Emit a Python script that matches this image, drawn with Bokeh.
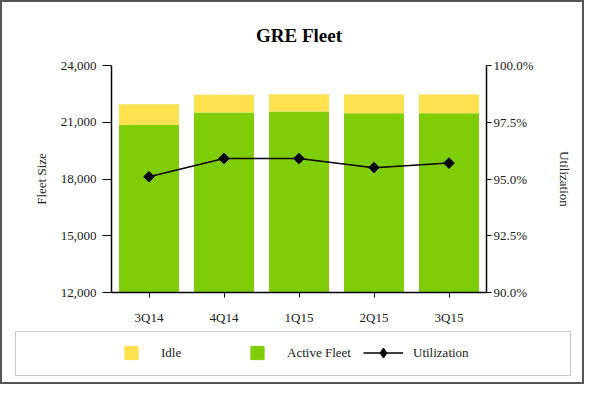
import math
from bokeh.plotting import figure
from bokeh.models import (ColumnDataSource, Range1d, LinearAxis, FactorRange,
                          NumeralTickFormatter, PrintfTickFormatter, FixedTicker,
                          Legend, LegendItem)
from bokeh.layouts import column
from bokeh.embed import file_html
from bokeh.resources import INLINE

# ---- data ----
categories = ["3Q14", "4Q14", "1Q15", "2Q15", "3Q15"]
active_fleet = [20860, 21520, 21570, 21470, 21470]
idle = [1090, 930, 915, 995, 995]
utilization = [95.1, 95.9, 95.9, 95.5, 95.7]
left_ticks = [12000, 15000, 18000, 21000, 24000]
right_ticks = [90.0, 92.5, 95.0, 97.5, 100.0]

GREEN = "#7ecd06"
YELLOW = "#ffe14f"
FONT = "Liberation Serif"
TXT = "#222222"

src = ColumnDataSource(dict(cat=categories, active=active_fleet, idle=idle,
                            total=[a + i for a, i in zip(active_fleet, idle)],
                            util=utilization))

p = figure(x_range=FactorRange(*categories, range_padding=0),
           y_range=Range1d(12000, 24000),
           width=580, height=325, output_backend="svg", toolbar_location=None,
           min_border_left=109, min_border_right=96, min_border_top=60,
           min_border_bottom=35, outline_line_color=None)
p.frame_align = False
p.extra_y_ranges = {"util": Range1d(90, 100)}

p.vbar_stack(["active", "idle"], x="cat", width=0.8, color=[GREEN, YELLOW],
             line_color=None, source=src)
p.line("cat", "util", source=src, y_range_name="util", color="black", line_width=1.5)
p.scatter("cat", "util", source=src, y_range_name="util", marker="square",
          angle=math.pi / 4, size=7.5, color="black")

p.title.text = "GRE Fleet"
p.title.align = "center"
p.title.text_font = FONT
p.title.text_font_size = "19px"
p.title.text_font_style = "bold"
p.title.text_color = "black"
p.title.standoff = 40

p.xgrid.visible = False
p.ygrid.visible = False

# left axis
ya = p.yaxis[0]
ya.ticker = FixedTicker(ticks=left_ticks)
ya.formatter = NumeralTickFormatter(format="0,0")
ya.axis_label = "Fleet Size"
ya.minor_tick_line_color = None
ya.major_tick_in = 0
ya.major_tick_out = 9
ya.major_label_standoff = 6

# right axis
ra = LinearAxis(y_range_name="util", ticker=FixedTicker(ticks=right_ticks),
                formatter=PrintfTickFormatter(format="%.1f%%"),
                axis_label="Utilization")
ra.minor_tick_line_color = None
ra.major_tick_in = 0
ra.major_tick_out = 5
ra.major_label_standoff = 2
p.add_layout(ra, "right")

xa = p.xaxis[0]
xa.major_tick_in = 0
xa.major_tick_out = 5
xa.major_label_standoff = 12
xa.minor_tick_line_color = None

for ax in [xa, ya, ra]:
    ax.axis_line_color = "black"
    ax.axis_line_width = 1.5
    ax.major_tick_line_color = "black"
    ax.major_label_text_font = FONT
    ax.major_label_text_font_size = "13px"
    ax.major_label_text_color = TXT
    ax.axis_label_text_font = FONT
    ax.axis_label_text_font_size = "13px"
    ax.axis_label_text_font_style = "normal"
    ax.axis_label_text_color = TXT
ya.axis_label_standoff = 9
ra.axis_label_standoff = 20

# ---- legend strip: its frame outline is the legend box ----
q = figure(x_range=FactorRange(*categories), y_range=Range1d(0, 1),
           width=580, height=55, output_backend="svg", toolbar_location=None,
           min_border_left=13, min_border_right=12, min_border_top=4,
           min_border_bottom=7, outline_line_color="#c8c8c8",
           x_axis_location=None, y_axis_location=None)
q.frame_align = False
q.xgrid.visible = False
q.ygrid.visible = False
# swatch renderers (their data lie outside this strip's range, so only the legend shows)
s_idle = q.scatter("cat", "total", source=src, marker="square", color=YELLOW)
s_act = q.scatter("cat", "active", source=src, marker="square", color=GREEN)
s_line = q.line("cat", "util", source=src, color="black", line_width=1.5)
s_dia = q.scatter("cat", "util", source=src, marker="diamond", size=10, color="black")


def legend_common(lg):
    lg.glyph_width = 40
    lg.label_standoff = 10
    lg.padding = 0
    lg.spacing = 0
    lg.margin = 0
    lg.border_line_color = None
    lg.background_fill_alpha = 0
    lg.label_text_font = FONT
    lg.label_text_font_size = "13px"
    lg.label_text_color = TXT
    lg.orientation = "horizontal"


lg1 = Legend(items=[LegendItem(label="Idle", renderers=[s_idle]),
                    LegendItem(label="Active Fleet", renderers=[s_act])],
             location=(96, 6))
legend_common(lg1)
lg1.glyph_height = 33
lg1.label_width = 76
q.add_layout(lg1)

lg2 = Legend(items=[LegendItem(label="Utilization", renderers=[s_line, s_dia])],
             location=(348, 10))
legend_common(lg2)
lg2.glyph_height = 25
q.add_layout(lg2)

layout = column(p, q, styles={"border": "2px solid #555555"})

open("out.html", "w").write(file_html(layout, INLINE))
